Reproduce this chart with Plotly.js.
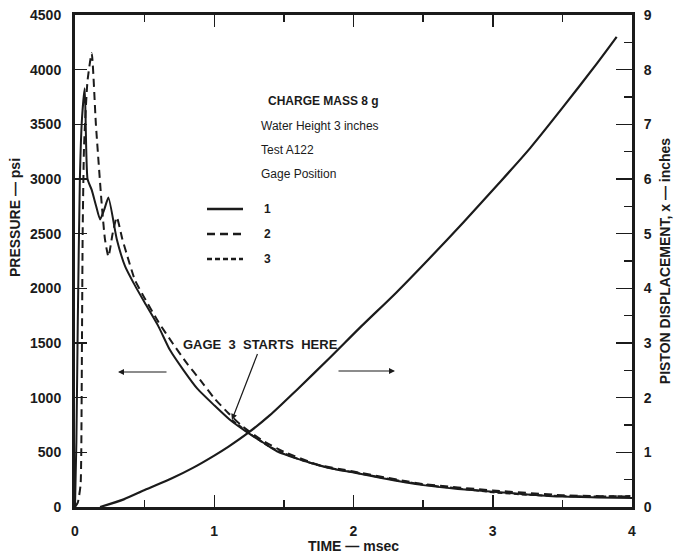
<!DOCTYPE html>
<html>
<head>
<meta charset="utf-8">
<script src="https://cdn.plot.ly/plotly-3.0.1.min.js"></script>
<style>html,body{margin:0;padding:0;background:#fff;}#chart{width:675px;height:554px;}</style>
</head>
<body>
<div id="chart"></div>
<script>
// ---- Data ----
// Gage 1 pressure (psi) vs time (msec)
const gage1Time = [0, 0.01, 0.02, 0.035, 0.05, 0.07, 0.09, 0.12, 0.15, 0.18, 0.21, 0.24, 0.30, 0.36, 0.42, 0.50, 0.60, 0.68, 0.78, 0.88, 1.00, 1.11, 1.24, 1.35, 1.45, 1.60, 1.70, 1.85, 2.00, 2.20, 2.50, 2.75, 3.00, 3.25, 3.50, 3.75, 4.00];
const gage1Pressure = [0, 600, 1700, 3000, 3550, 3830, 3000, 2900, 2760, 2630, 2720, 2830, 2450, 2200, 2050, 1870, 1650, 1440, 1250, 1080, 930, 800, 680, 590, 510, 440, 400, 350, 315, 265, 200, 165, 140, 115, 95, 88, 82];
// Gage 2 pressure
const gage2Time = [0, 0.02, 0.04, 0.045, 0.05, 0.055, 0.065, 0.09, 0.12, 0.15, 0.19, 0.215, 0.24, 0.27, 0.30, 0.34, 0.37, 0.43, 0.50, 0.60, 0.70, 0.80, 0.90, 1.00, 1.10, 1.20, 1.35, 1.50, 1.75, 2.00, 2.50, 3.00, 3.50, 4.00];
const gage2Pressure = [0, 40, 200, 500, 1500, 2500, 3300, 3900, 4150, 3500, 2800, 2450, 2290, 2500, 2650, 2450, 2320, 2077, 1910, 1690, 1500, 1320, 1160, 995, 860, 740, 605, 505, 385, 325, 210, 152, 108, 95];
// Gage 3 pressure (starts at about 1.13 msec)
const gage3Time = [1.127, 1.25, 1.40, 1.60, 1.80, 2.00, 2.25, 2.50, 2.75, 3.00, 3.25, 3.50, 3.75, 4.00];
const gage3Pressure = [796, 675, 550, 440, 365, 318, 258, 205, 170, 135, 112, 100, 96, 100];
// Piston displacement (inches)
const dispTime = [0.18, 0.35, 0.50, 0.70, 0.85, 1.00, 1.10, 1.24, 1.40, 1.60, 1.83, 2.05, 2.31, 2.55, 2.79, 3.03, 3.27, 3.50, 3.75, 3.89];
const displacement = [0, 0.14, 0.31, 0.53, 0.72, 0.94, 1.10, 1.35, 1.68, 2.16, 2.73, 3.29, 3.93, 4.56, 5.21, 5.88, 6.57, 7.30, 8.12, 8.60];

const xTickVals = [0, 1, 2, 3, 4];
const yTickVals = [0, 500, 1000, 1500, 2000, 2500, 3000, 3500, 4000, 4500];
const y2TickVals = [0, 1, 2, 3, 4, 5, 6, 7, 8, 9];
const legendNames = ['1', '2', '3'];

// ---- Styling / layout helpers ----
const INK = '#1b1b1b';
const W = 675, H = 554;
const L = 75, R = 632, T = 15, B = 507;
const px = x => (x - L) / (R - L);
const py = y => (B - y) / (B - T);
const FONT = 'Liberation Sans, Arial, Helvetica, sans-serif';

const traces = [
  {x: gage1Time, y: gage1Pressure, mode: 'lines', name: legendNames[0],
   line: {color: INK, width: 2, shape: 'spline', smoothing: 0.5}, yaxis: 'y'},
  {x: gage2Time, y: gage2Pressure, mode: 'lines', name: legendNames[1],
   line: {color: INK, width: 2, dash: '8px,5px', shape: 'spline', smoothing: 0.5}, yaxis: 'y'},
  {x: gage3Time, y: gage3Pressure, mode: 'lines', name: legendNames[2],
   line: {color: INK, width: 2, dash: '5px,3px', shape: 'spline', smoothing: 0.5}, yaxis: 'y'},
  {x: dispTime, y: displacement, mode: 'lines', name: 'Piston displacement',
   line: {color: INK, width: 2.2, shape: 'spline', smoothing: 0.8}, yaxis: 'y2'}
];

const tickFont = {family: FONT, size: 14, color: INK, weight: 700};
const titleFont = {family: FONT, size: 14, color: INK, weight: 700};
const txtFont = {family: FONT, size: 12, color: INK};

// legend drawn as sample lines + labels
const legendY = [209, 234, 259];
const dashes = ['solid', '8px,5px', '5px,3px'];
const shapes = legendY.map((yy, i) => ({
  type: 'line', xref: 'paper', yref: 'paper',
  x0: px(207), x1: px(243), y0: py(yy), y1: py(yy),
  line: {color: INK, width: 2.5, dash: dashes[i]}
}));

const annotations = [
  {xref: 'paper', yref: 'paper', x: px(266), y: py(101), xanchor: 'left', yanchor: 'middle',
   text: 'CHARGE MASS 8 g', showarrow: false, font: {family: FONT, size: 12, color: INK, weight: 700}},
  {xref: 'paper', yref: 'paper', x: px(259), y: py(126), xanchor: 'left', yanchor: 'middle',
   text: 'Water Height 3 inches', showarrow: false, font: txtFont},
  {xref: 'paper', yref: 'paper', x: px(259), y: py(150), xanchor: 'left', yanchor: 'middle',
   text: 'Test A122', showarrow: false, font: txtFont},
  {xref: 'paper', yref: 'paper', x: px(259), y: py(174), xanchor: 'left', yanchor: 'middle',
   text: 'Gage Position', showarrow: false, font: txtFont},
  // left axis title
  {xref: 'paper', yref: 'paper', x: px(15), y: py(218), xanchor: 'center', yanchor: 'middle',
   text: 'PRESSURE — psi', textangle: -90, showarrow: false, font: titleFont},
  // "GAGE 3 STARTS HERE" pointing at the first gage-3 point
  {x: gage3Time[0], y: gage3Pressure[0], xref: 'x', yref: 'y',
   text: 'GAGE&nbsp; 3&nbsp; STARTS&nbsp; HERE', showarrow: true, arrowhead: 2, arrowsize: 1, arrowwidth: 1.2,
   arrowcolor: INK, ax: 29, ay: -75, standoff: 0,
   font: {family: FONT, size: 13, color: INK, weight: 700}},
  // axis-direction arrows
  {xref: 'paper', yref: 'paper', x: px(118), y: py(372), ax: 50, ay: 0, text: '',
   showarrow: true, arrowhead: 2, arrowsize: 1, arrowwidth: 1.2, arrowcolor: INK},
  {xref: 'paper', yref: 'paper', x: px(395), y: py(371), ax: -58, ay: 0, text: '',
   showarrow: true, arrowhead: 2, arrowsize: 1, arrowwidth: 1.2, arrowcolor: INK}
];
legendY.forEach((yy, i) => annotations.push({
  xref: 'paper', yref: 'paper', x: px(262), y: py(yy), xanchor: 'left', yanchor: 'middle',
  text: legendNames[i], showarrow: false, font: {family: FONT, size: 12, color: INK, weight: 700}
}));

const layout = {
  width: W, height: H,
  margin: {l: L, r: W - R, t: T, b: H - B, pad: 0},
  paper_bgcolor: '#fff', plot_bgcolor: '#fff',
  showlegend: false,
  font: {family: FONT, color: INK},
  xaxis: {
    range: [0, 4], tickvals: xTickVals, ticks: 'inside', ticklen: 12, tickwidth: 1.5, tickcolor: INK,
    minor: {dtick: 0.5, tick0: 0, ticks: 'inside', ticklen: 7, tickwidth: 1.5, tickcolor: INK},
    showline: true, linewidth: 3, linecolor: INK, mirror: 'ticks',
    showgrid: false, zeroline: false, tickfont: tickFont, ticklabelstandoff: 9,
    title: {text: 'TIME — msec', font: titleFont, standoff: 4}
  },
  yaxis: {
    range: [0, 4500], tickvals: yTickVals, ticks: 'inside', ticklen: 12, tickwidth: 1.5, tickcolor: INK,
    showline: true, linewidth: 3, linecolor: INK,
    showgrid: false, zeroline: false, tickfont: tickFont, ticklabelstandoff: 8
  },
  yaxis2: {
    range: [0, 9], tickvals: y2TickVals, overlaying: 'y', side: 'right',
    ticks: 'inside', ticklen: 16, tickwidth: 1.5, tickcolor: INK,
    minor: {dtick: 0.5, tick0: 0, ticks: 'inside', ticklen: 8, tickwidth: 1.5, tickcolor: INK},
    showline: true, linewidth: 3, linecolor: INK,
    showgrid: false, zeroline: false, tickfont: tickFont, ticklabelstandoff: 6,
    title: {text: 'PISTON DISPLACEMENT, x — inches', font: titleFont, standoff: 10}
  },
  shapes: shapes,
  annotations: annotations
};

Plotly.newPlot('chart', traces, layout, {staticPlot: true, displayModeBar: false});
</script>
</body>
</html>
